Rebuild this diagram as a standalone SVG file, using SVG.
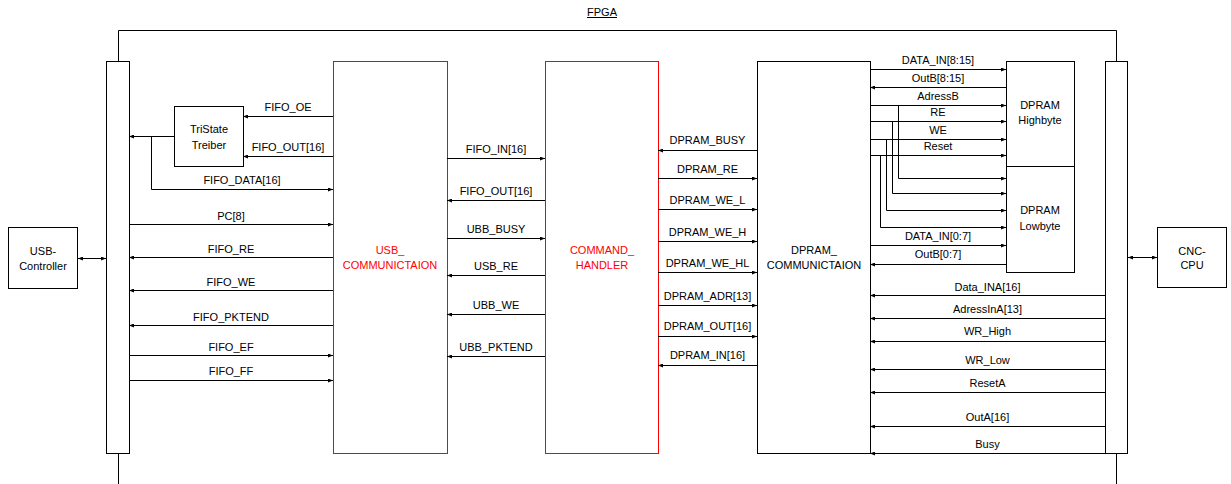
<svg xmlns="http://www.w3.org/2000/svg" width="1231" height="484" viewBox="0 0 1231 484">
<defs>
<marker id="ah" markerUnits="userSpaceOnUse" markerWidth="5" markerHeight="4" refX="5" refY="2" orient="auto-start-reverse">
<path d="M0,0 L5,2 L0,4 z" fill="#000"/>
</marker>
<style>
text{font-family:"Liberation Sans",Arial,sans-serif;font-size:11px;fill:#000;text-anchor:middle}
.red{fill:#ff0000}
.box{fill:#fff;stroke:#000;stroke-width:1}
.rbox{fill:#fff;stroke:#ff0000;stroke-width:1}
.w{fill:none;stroke:#000;stroke-width:1}
.a{fill:none;stroke:#000;stroke-width:1;marker-end:url(#ah)}
.d{fill:none;stroke:#000;stroke-width:1;marker-start:url(#ah);marker-end:url(#ah)}
</style>
</defs>
<rect width="1231" height="484" fill="#fff"/>
<g id="fpga">
<path class="w" d="M118.5,484 V30.5 H1116.5 V484"/>
<text x="602" y="15.5">FPGA</text>
<line x1="587" y1="17.5" x2="617" y2="17.5" stroke="#000" stroke-width="1"/>
</g>
<g id="left-bar"><rect class="box" x="106.5" y="61.5" width="23" height="392"/></g>
<g id="right-bar"><rect class="box" x="1105.5" y="61.5" width="22" height="392"/></g>
<g id="usb-controller"><rect class="box" x="8.5" y="227.5" width="69" height="61"/><text x="43" y="255">USB-</text><text x="43" y="269.5">Controller</text></g>
<g id="cnc-cpu"><rect class="box" x="1157.5" y="227.5" width="69" height="60"/><text x="1192" y="254.5">CNC-</text><text x="1192" y="269">CPU</text></g>
<g id="tristate"><rect class="box" x="174.5" y="106.5" width="69" height="60"/><text x="209" y="133">TriState</text><text x="209" y="149">Treiber</text></g>
<g id="usb-comm"><rect class="rbox" x="333.5" y="61.5" width="114" height="392"/><text class="red" x="390" y="254">USB_</text><text class="red" x="390" y="269">COMMUNICTAION</text></g>
<g id="command-handler"><rect class="rbox" x="545.5" y="61.5" width="113" height="392"/><text class="red" x="602" y="254">COMMAND_</text><text class="red" x="602" y="269">HANDLER</text></g>
<g id="dpram-comm"><rect class="box" x="757.5" y="61.5" width="113" height="392"/><text x="814" y="253.5">DPRAM_</text><text x="814" y="269">COMMUNICTAION</text></g>
<g id="dpram-high"><rect class="box" x="1006.5" y="61.5" width="68" height="105"/><text x="1040" y="109">DPRAM</text><text x="1040" y="123.5">Highbyte</text></g>
<g id="dpram-low"><rect class="box" x="1006.5" y="166.5" width="68" height="106"/><text x="1040" y="214">DPRAM</text><text x="1040" y="230">Lowbyte</text></g>
<g id="connectors">
<path class="d" d="M78,258.5 H106"/>
<path class="d" d="M1128,257.5 H1157"/>
<path class="a" d="M333,116.5 H243"/><text x="288" y="111">FIFO_OE</text>
<path class="a" d="M333,156.5 H243"/><text x="288" y="150.5">FIFO_OUT[16]</text>
<path class="a" d="M174,136.5 H129"/>
<path class="a" d="M151.5,136.5 V189.5 H333"/><text x="242" y="183.5">FIFO_DATA[16]</text>
<path class="a" d="M129,224.5 H333"/><text x="231" y="220">PC[8]</text>
<path class="a" d="M333,257.5 H129"/><text x="231" y="252.5">FIFO_RE</text>
<path class="a" d="M333,290.5 H129"/><text x="231" y="285.5">FIFO_WE</text>
<path class="a" d="M333,325.5 H129"/><text x="231" y="320.5">FIFO_PKTEND</text>
<path class="a" d="M129,355.5 H333"/><text x="231" y="350.5">FIFO_EF</text>
<path class="a" d="M129,380.5 H333"/><text x="231" y="374.5">FIFO_FF</text>
<path class="a" d="M447,158.5 H545"/><text x="496" y="152.5">FIFO_IN[16]</text>
<path class="a" d="M545,200.5 H447"/><text x="496" y="194.5">FIFO_OUT[16]</text>
<path class="a" d="M447,238.5 H545"/><text x="496" y="232.5">UBB_BUSY</text>
<path class="a" d="M545,275.5 H447"/><text x="496" y="270">USB_RE</text>
<path class="a" d="M545,314.5 H447"/><text x="496" y="309">UBB_WE</text>
<path class="a" d="M545,356.5 H447"/><text x="496" y="351">UBB_PKTEND</text>
<path class="a" d="M757,150.5 H658"/><text x="707.5" y="144">DPRAM_BUSY</text>
<path class="a" d="M658,178.5 H757"/><text x="707.5" y="172.5">DPRAM_RE</text>
<path class="a" d="M658,209.5 H757"/><text x="707.5" y="203.5">DPRAM_WE_L</text>
<path class="a" d="M658,241.5 H757"/><text x="707.5" y="236">DPRAM_WE_H</text>
<path class="a" d="M658,272.5 H757"/><text x="707.5" y="267">DPRAM_WE_HL</text>
<path class="a" d="M658,305.5 H757"/><text x="707.5" y="299.5">DPRAM_ADR[13]</text>
<path class="a" d="M658,336.5 H757"/><text x="707.5" y="330">DPRAM_OUT[16]</text>
<path class="a" d="M757,365.5 H658"/><text x="707.5" y="358.5">DPRAM_IN[16]</text>
<path class="a" d="M870,69.5 H1006"/><text x="938" y="64">DATA_IN[8:15]</text>
<path class="a" d="M1006,87.5 H870"/><text x="938" y="81.5">OutB[8:15]</text>
<path class="a" d="M870,105.5 H1006"/><text x="938" y="100">AdressB</text>
<path class="a" d="M898.5,105.5 V178.5 H1006"/>
<path class="a" d="M870,121.5 H1006"/><text x="938" y="116">RE</text>
<path class="a" d="M892.5,121.5 V193.5 H1006"/>
<path class="a" d="M870,139.5 H1006"/><text x="938" y="134">WE</text>
<path class="a" d="M886.5,139.5 V210.5 H1006"/>
<path class="a" d="M870,155.5 H1006"/><text x="938" y="150">Reset</text>
<path class="a" d="M880.5,155.5 V227.5 H1006"/>
<path class="a" d="M870,245.5 H1006"/><text x="938" y="240">DATA_IN[0:7]</text>
<path class="a" d="M1006,264.5 H870"/><text x="938" y="258">OutB[0:7]</text>
<path class="a" d="M1105,295.5 H870"/><text x="987.5" y="290.5">Data_INA[16]</text>
<path class="a" d="M1105,318.5 H870"/><text x="987.5" y="312.5">AdressInA[13]</text>
<path class="a" d="M1105,341.5 H870"/><text x="987.5" y="335">WR_High</text>
<path class="a" d="M1105,369.5 H870"/><text x="987.5" y="363.5">WR_Low</text>
<path class="a" d="M1105,392.5 H870"/><text x="987.5" y="387">ResetA</text>
<path class="a" d="M1105,426.5 H870"/><text x="987.5" y="420.5">OutA[16]</text>
<path class="a" d="M1105,453.5 H870"/><text x="987.5" y="448">Busy</text>
</g>
</svg>
